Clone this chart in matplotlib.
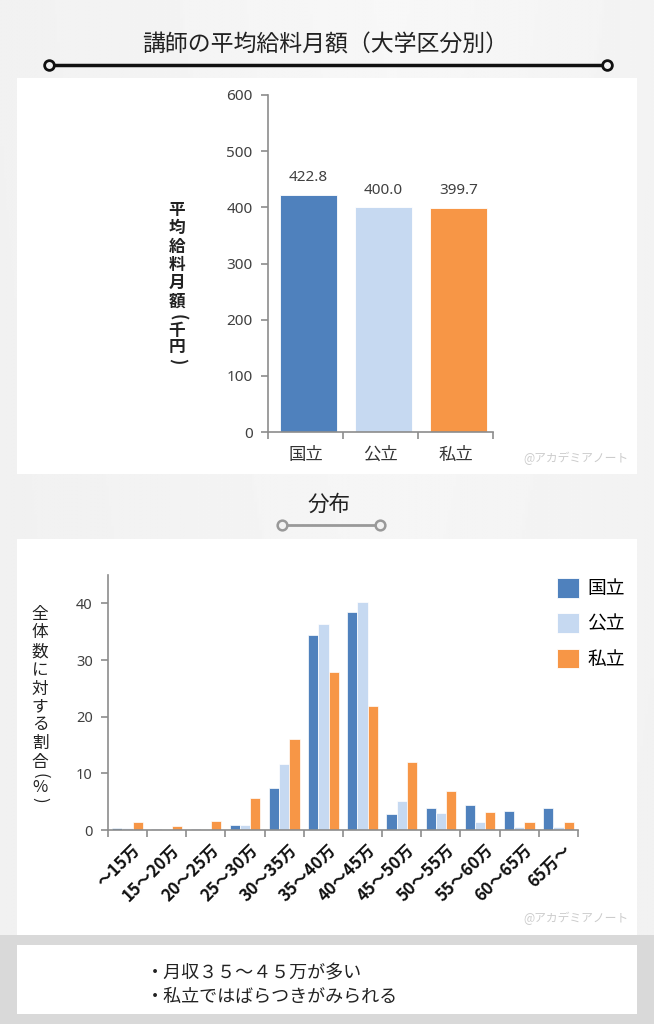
import numpy as np
import matplotlib
matplotlib.use('Agg')
import matplotlib.pyplot as plt
from matplotlib.patches import Rectangle, Patch
from matplotlib.lines import Line2D

plt.rcParams['font.family'] = ['Noto Sans CJK JP', 'DejaVu Sans']

# ----- データ
kubun = ['国立', '公立', '私立']
heikin_kyuryo = [422.8, 400.0, 399.7]

kaikyu = ['～15万', '15～20万', '20～25万', '25～30万', '30～35万', '35～40万',
          '40～45万', '45～50万', '50～55万', '55～60万', '60～65万', '65万～']
kokuritsu = [0.4, 0.2, 0.2, 0.8, 7.5, 34.5, 38.4, 2.8, 3.9, 4.5, 3.4, 3.8]
kouritsu = [0.3, 0.1, 0.1, 0.8, 11.7, 36.4, 40.2, 5.2, 3.0, 1.4, 0.5, 0.5]
shiritsu = [1.4, 0.7, 1.6, 5.7, 16.0, 27.8, 21.9, 12.0, 6.9, 3.2, 1.5, 1.4]

iro = ['#4f81bd', '#c6d9f1', '#f79646']
jiku_iro = '#8c8c8c'

W, H = 654, 1024


def fx(x):
    return x / W


def fy(y):
    return 1 - y / H


fig = plt.figure(figsize=(W / 100, H / 100), dpi=100)

# 背景
bg = fig.add_axes([0, 0, 1, 1], zorder=-3)
grad = np.linspace(0, 1, 256)
gx, gy = np.meshgrid(grad, grad)
bg.imshow(0.93 + 0.04 * (1 - np.abs(gx - 0.6)) * (1 - 0.3 * gy), cmap='gray',
          vmin=0, vmax=1, aspect='auto', extent=[0, 1, 0, 1])
bg.set_axis_off()


def panel(x0, y0, x1, y1, color='white'):
    fig.add_artist(Rectangle((fx(x0), fy(y1)), fx(x1) - fx(x0), fy(y0) - fy(y1),
                             transform=fig.transFigure, facecolor=color,
                             edgecolor='none', zorder=-2))


panel(17, 78, 637, 474)
panel(17, 539, 637, 935)
panel(0, 935, W, H, '#d9d9d9')
panel(17, 945, 637, 1014)

# タイトル
fig.text(fx(325), fy(45), '講師の平均給料月額（大学区分別）', ha='center', va='center',
         fontsize=16.5, color='#222222')
fig.add_artist(Line2D([fx(49), fx(607)], [fy(65), fy(65)], transform=fig.transFigure,
                      color='#111111', lw=2.5, marker='o', markersize=7,
                      markerfacecolor='#f2f2f2', markeredgewidth=2))

fig.text(fx(329), fy(505), '分布', ha='center', va='center', fontsize=15.5, color='#222222')
fig.add_artist(Line2D([fx(282), fx(380)], [fy(525), fy(525)], transform=fig.transFigure,
                      color='#999999', lw=2, marker='o', markersize=7,
                      markerfacecolor='#f2f2f2', markeredgewidth=1.8))


def tate(x, ys, s, **kw):
    # 縦書き: 1文字ずつ置く。括弧は半角を90度回して使う
    for c, y in zip(s, ys):
        rot = -90 if c in '()' else 0
        fig.text(fx(x), fy(y), c, ha='center', va='center', rotation=rot,
                 rotation_mode='anchor' if rot else 'default', **kw)


# ----- 上のグラフ: 平均給料月額
ax1 = fig.add_axes([fx(268), fy(432), fx(493) - fx(268), fy(95) - fy(432)])
ax1.bar(np.arange(len(kubun)) + 0.04, heikin_kyuryo, width=0.76, color=iro,
        edgecolor='white', linewidth=0.6)
for i, v in enumerate(heikin_kyuryo):
    ax1.annotate(f'{v:.1f}', (i + 0.04, v), xytext=(0, 17), textcoords='offset pixels',
                 ha='center', va='center', fontsize=11, color='#404040',
                 family=['Noto Sans', 'DejaVu Sans'])
ax1.set_xlim(-0.5, 2.5)
ax1.set_ylim(0, 600)
ax1.set_yticks(range(0, 601, 100))
ax1.set_xticks(range(3))
ax1.set_xticklabels(kubun, fontsize=12.5, color='#333333')
ax1.set_xticks([-0.5, 0.5, 1.5, 2.5], minor=True)
ax1.tick_params(axis='x', which='major', length=0, pad=10)
ax1.tick_params(axis='x', which='minor', length=5, color=jiku_iro, width=1.2)
ax1.tick_params(axis='y', length=5, color=jiku_iro, width=1.2, labelsize=11,
                labelcolor='#404040', pad=6)
for lab in ax1.get_yticklabels():
    lab.set_family(['Noto Sans', 'DejaVu Sans'])
for s in ['top', 'right']:
    ax1.spines[s].set_visible(False)
for s in ['left', 'bottom']:
    ax1.spines[s].set_color(jiku_iro)
    ax1.spines[s].set_linewidth(1.2)
ax1.set_facecolor('none')
tate(177, [210, 228, 247, 265, 283, 302, 317, 331, 347, 361], '平均給料月額(千円)',
     fontsize=12, fontweight='bold', color='#222222')
fig.text(fx(629), fy(458), '@アカデミアノート', ha='right', va='center', fontsize=8.5,
         color='#cccccc')

# ----- 下のグラフ: 分布
ax2 = fig.add_axes([fx(108), fy(830), fx(578) - fx(108), fy(575) - fy(830)])
x = np.arange(len(kaikyu))
w = 0.26
for k, (vals, c, name) in enumerate(zip([kokuritsu, kouritsu, shiritsu], iro, kubun)):
    ax2.bar(x + (k - 1) * w, vals, width=w, color=c, edgecolor='white',
            linewidth=0.5, label=name)
ax2.set_xlim(-0.5, 11.5)
ax2.set_ylim(0, 45)
ax2.set_yticks(range(0, 41, 10))
ax2.set_xticks(x + 0.1)
ax2.set_xticklabels(kaikyu, rotation=45, ha='right', rotation_mode='anchor',
                    fontsize=12, fontweight='bold', color='#111111')
ax2.set_xticks(np.arange(-0.5, 12, 1), minor=True)
ax2.tick_params(axis='x', which='major', length=0, pad=8)
ax2.tick_params(axis='x', which='minor', length=5, color=jiku_iro, width=1.2)
ax2.tick_params(axis='y', length=5, color=jiku_iro, width=1.2, labelsize=10.5,
                labelcolor='#404040', pad=6)
for lab in ax2.get_yticklabels():
    lab.set_family(['Noto Sans', 'DejaVu Sans'])
for s in ['top', 'right']:
    ax2.spines[s].set_visible(False)
for s in ['left', 'bottom']:
    ax2.spines[s].set_color(jiku_iro)
    ax2.spines[s].set_linewidth(1.2)
ax2.set_facecolor('none')
handles = [Patch(facecolor=c, edgecolor='white', linewidth=0.6) for c in iro]
ax2.legend(handles, kubun, loc='upper left', bbox_to_anchor=(fx(557), fy(578)),
           bbox_transform=fig.transFigure, frameon=False, fontsize=13.5,
           handlelength=1.15, handleheight=1.25, handletextpad=0.45,
           labelspacing=0.75, borderpad=0, borderaxespad=0)
tate(40, [615, 633, 652, 671, 689, 707, 725, 743, 762, 776, 788, 800],
     '全体数に対する割合(%)', fontsize=12, color='#222222')
fig.text(fx(629), fy(918), '@アカデミアノート', ha='right', va='center', fontsize=8.5,
         color='#cccccc')

# ----- まとめ
fig.text(fx(146), fy(973), '・月収３５～４５万が多い', ha='left', va='center',
         fontsize=13, color='#222222')
fig.text(fx(146), fy(997), '・私立ではばらつきがみられる', ha='left', va='center',
         fontsize=13, color='#222222')

fig.savefig('out.png', dpi=100)
